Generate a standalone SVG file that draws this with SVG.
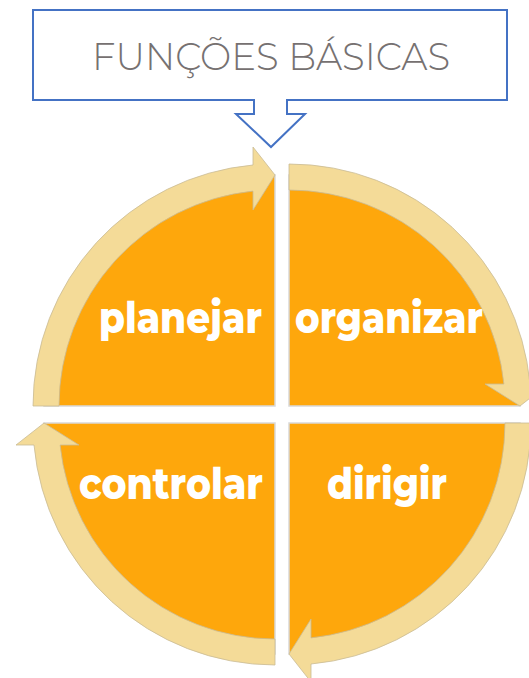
<svg xmlns="http://www.w3.org/2000/svg" width="529" height="678" viewBox="0 0 529 678">
  <defs>
    <style>
      .pie { fill: #FEA70C; stroke: #D9D9D9; stroke-width: 1.5; }
      .band { fill: #F4DB98; stroke: #C9BB95; stroke-width: 0.8; stroke-linejoin: miter; }
      .lbl { font-family: "Montserrat", "Open Sans", "Liberation Sans", sans-serif; font-weight: 800; font-size: 43px; fill: #FFFFFF; }
      .title { font-family: "Montserrat", "Open Sans", "Liberation Sans", sans-serif; font-weight: 300; font-size: 38px; fill: #767171; }
      .callout { fill: #FFFFFF; stroke: #4472C4; stroke-width: 2; }
    </style>
    <path id="pieShape" d="M0,0 L-231,0 A231,231 0 0 1 0,-231 Z"/>
    <path id="bandShape" d="M-242,0 A242,242 0 0 1 -22,-241 L-22,-259 L0,-231 L-22,-196 L-22,-214.9 A216,216 0 0 0 -216,0 Z"/>
  </defs>

  <g id="quadrant-planejar">
    <use href="#pieShape" class="pie" transform="translate(275,406)"/>
    <use href="#bandShape" class="band" transform="translate(275,406)"/>
    <text class="lbl" x="99" y="333" textLength="163" lengthAdjust="spacingAndGlyphs">planejar</text>
  </g>

  <g id="quadrant-organizar">
    <use href="#pieShape" class="pie" transform="translate(289,406) rotate(90)"/>
    <use href="#bandShape" class="band" transform="translate(289,406) rotate(90)"/>
    <text class="lbl" x="295" y="333" textLength="188" lengthAdjust="spacingAndGlyphs">organizar</text>
  </g>

  <g id="quadrant-dirigir">
    <use href="#pieShape" class="pie" transform="translate(289,423) rotate(180)"/>
    <use href="#bandShape" class="band" transform="translate(289,423) rotate(180)"/>
    <text class="lbl" x="327" y="499" textLength="120" lengthAdjust="spacingAndGlyphs">dirigir</text>
  </g>

  <g id="quadrant-controlar">
    <use href="#pieShape" class="pie" transform="translate(275,423) rotate(270)"/>
    <use href="#bandShape" class="band" transform="translate(275,423) rotate(270)"/>
    <text class="lbl" x="79" y="499" textLength="184" lengthAdjust="spacingAndGlyphs">controlar</text>
  </g>

  <g id="callout-title">
    <path class="callout" d="M33,10 H507 V100 H287 V114 H305 L271,147 L236,114 H254 V100 H33 Z"/>
    <text class="title" x="92" y="70" textLength="358" lengthAdjust="spacingAndGlyphs">FUNÇÕES BÁSICAS</text>
  </g>

  <g id="connectors"></g>
</svg>
